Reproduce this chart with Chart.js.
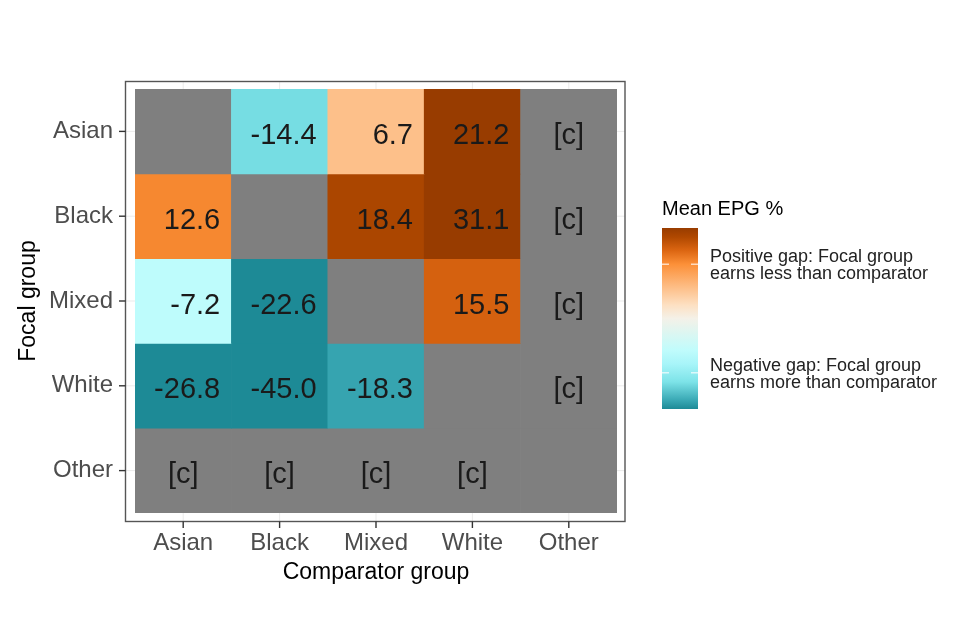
<!DOCTYPE html>
<html>
<head>
<meta charset="utf-8">
<script src="https://cdn.jsdelivr.net/npm/chart.js@4.4.1/dist/chart.umd.min.js"></script>
<style>
  html, body { margin: 0; background: #fff; }
  #wrap { width: 960px; height: 640px; }
</style>
</head>
<body>
<div id="wrap"><canvas id="heat"></canvas></div>
<script>
const comparators = ["Asian", "Black", "Mixed", "White", "Other"];
const focals = ["Asian", "Black", "Mixed", "White", "Other"];
// one row per focal group, columns follow comparators; null = same group, "c" = suppressed
const asianRow = [null, -14.4, 6.7, 21.2, "c"];
const blackRow = [12.6, null, 18.4, 31.1, "c"];
const mixedRow = [-7.2, -22.6, null, 15.5, "c"];
const whiteRow = [-26.8, -45.0, -18.3, null, "c"];
const otherRow = ["c", "c", "c", "c", null];
const rows = [asianRow, blackRow, mixedRow, whiteRow, otherRow];

const scaleLimit = 20; // fill scale is squished to +/- 20
const legendBreaks = [12, -12];
const legendLabels = [
  ["Positive gap: Focal group", "earns less than comparator"],
  ["Negative gap: Focal group", "earns more than comparator"]
];

const FONT = "'Liberation Sans', Arial, sans-serif";
const NA_GREY = "#7f7f7f";

// diverging palette, teal -> white -> brown
const fillStops = [
  [-20, "#1d8a96"], [-18, "#3aa9b5"], [-14, "#7de3e8"], [-10, "#a8f5f9"], [-7, "#c0fcfc"],
  [0, "#f4f1e8"], [3, "#fde0c2"], [7, "#fdbd85"], [12, "#fc9038"], [15, "#dc6612"],
  [18, "#b04800"], [20, "#983c00"]
];

function hexToRgb(h) {
  const n = parseInt(h.slice(1), 16);
  return [(n >> 16) & 255, (n >> 8) & 255, n & 255];
}

function fillFor(v) {
  if (typeof v !== "number") return NA_GREY;
  const c = Math.max(-scaleLimit, Math.min(scaleLimit, v));
  for (let i = 0; i < fillStops.length - 1; i++) {
    const [v0, c0] = fillStops[i];
    const [v1, c1] = fillStops[i + 1];
    if (c >= v0 && c <= v1) {
      const t = (c - v0) / (v1 - v0);
      const a = hexToRgb(c0), b = hexToRgb(c1);
      const m = a.map((x, k) => Math.round(x + (b[k] - x) * t));
      return `rgb(${m[0]},${m[1]},${m[2]})`;
    }
  }
  return NA_GREY;
}

const datasets = rows.map((row, i) => ({
  label: focals[i],
  data: row.map(() => [focals.length - 1 - i, focals.length - i]),
  values: row,
  backgroundColor: row.map(fillFor),
  borderWidth: 0,
  grouped: false,
  barPercentage: 1,
  categoryPercentage: 1
}));

const panelPlugin = {
  id: "panel",
  beforeDatasetsDraw(chart) {
    const { ctx, chartArea: a, scales: { x, y } } = chart;
    ctx.save();
    ctx.strokeStyle = "#ebebeb";
    ctx.lineWidth = 1;
    x.ticks.forEach((t, i) => {
      const px = x.getPixelForTick(i);
      ctx.beginPath(); ctx.moveTo(px, a.top - 8); ctx.lineTo(px, a.bottom + 9); ctx.stroke();
    });
    y.ticks.forEach((t, i) => {
      const py = y.getPixelForTick(i);
      ctx.beginPath(); ctx.moveTo(a.left - 10, py); ctx.lineTo(a.right + 8, py); ctx.stroke();
    });
    ctx.restore();
  },
  afterDatasetsDraw(chart) {
    const { ctx } = chart;
    ctx.save();
    ctx.fillStyle = "#1a1a1a";
    ctx.font = `29px ${FONT}`;
    ctx.textBaseline = "alphabetic";
    chart.data.datasets.forEach((ds, di) => {
      const meta = chart.getDatasetMeta(di);
      meta.data.forEach((el, j) => {
        const v = ds.values[j];
        if (v === null) return;
        const cy = (el.y + el.base) / 2 + 12.5;
        if (v === "c") {
          ctx.textAlign = "center";
          ctx.fillText("[c]", el.x, cy);
        } else {
          ctx.textAlign = "right";
          ctx.fillText(v.toFixed(1), el.x + 37, cy);
        }
      });
    });
    ctx.restore();
  },
  afterDraw(chart) {
    const { ctx, chartArea: a, scales: { x, y } } = chart;
    const bl = a.left - 9.5, bt = a.top - 7.5, br = a.right + 8, bb = a.bottom + 8.5;
    ctx.save();
    ctx.strokeStyle = "#555";
    ctx.lineWidth = 1.4;
    ctx.strokeRect(bl, bt, br - bl, bb - bt);
    ctx.strokeStyle = "#333";
    x.ticks.forEach((t, i) => {
      const px = x.getPixelForTick(i);
      ctx.beginPath(); ctx.moveTo(px, bb); ctx.lineTo(px, bb + 6.5); ctx.stroke();
    });
    y.ticks.forEach((t, i) => {
      const py = y.getPixelForTick(i);
      ctx.beginPath(); ctx.moveTo(bl, py); ctx.lineTo(bl - 6.5, py); ctx.stroke();
    });

    // colour bar legend
    const lx = 662, ly = 228, lw = 36, lh = 181;
    ctx.fillStyle = "#000";
    ctx.font = `20px ${FONT}`;
    ctx.textAlign = "left";
    ctx.textBaseline = "alphabetic";
    ctx.fillText("Mean EPG %", lx, 215);

    const grad = ctx.createLinearGradient(0, ly, 0, ly + lh);
    fillStops.forEach(([v, c]) => grad.addColorStop((scaleLimit - v) / (2 * scaleLimit), c));
    ctx.fillStyle = grad;
    ctx.fillRect(lx, ly, lw, lh);

    ctx.strokeStyle = "rgba(255,255,255,0.85)";
    ctx.lineWidth = 1.2;
    ctx.fillStyle = "#222";
    ctx.font = `18px ${FONT}`;
    legendBreaks.forEach((b, i) => {
      const py = ly + (scaleLimit - b) / (2 * scaleLimit) * lh;
      ctx.beginPath(); ctx.moveTo(lx, py); ctx.lineTo(lx + 7, py); ctx.stroke();
      ctx.beginPath(); ctx.moveTo(lx + lw - 7, py); ctx.lineTo(lx + lw, py); ctx.stroke();
      ctx.fillText(legendLabels[i][0], 710, py - 2);
      ctx.fillText(legendLabels[i][1], 710, py + 15);
    });
    ctx.restore();
  }
};

new Chart(document.getElementById("heat"), {
  type: "bar",
  data: { labels: comparators, datasets },
  plugins: [panelPlugin],
  options: {
    responsive: true,
    maintainAspectRatio: false,
    animation: false,
    layout: { padding: { top: 89, right: 343, left: 0, bottom: 0 } },
    plugins: {
      legend: { display: false },
      tooltip: { enabled: false }
    },
    scales: {
      x: {
        type: "category",
        grid: { display: false, drawTicks: false },
        border: { display: false },
        ticks: { color: "#4d4d4d", font: { family: FONT, size: 24 }, padding: 16 },
        title: {
          display: true,
          text: "Comparator group",
          color: "#000",
          font: { family: FONT, size: 23 },
          padding: { top: 0, bottom: 54 }
        },
        afterFit: (scale) => { scale.height = 127; }
      },
      y: {
        type: "linear",
        min: 0,
        max: focals.length,
        grid: { display: false, drawTicks: false },
        border: { display: false },
        afterBuildTicks: (scale) => {
          scale.ticks = focals.map((f, i) => ({ value: i + 0.5 }));
        },
        ticks: {
          color: "#4d4d4d",
          font: { family: FONT, size: 24 },
          padding: 22,
          callback: (v) => focals[focals.length - 1 - Math.floor(v)]
        },
        title: {
          display: true,
          text: "Focal group",
          color: "#000",
          font: { family: FONT, size: 23 },
          padding: { top: 15, bottom: 0 }
        },
        afterFit: (scale) => { scale.width = 135; }
      }
    }
  }
});
</script>
</body>
</html>
